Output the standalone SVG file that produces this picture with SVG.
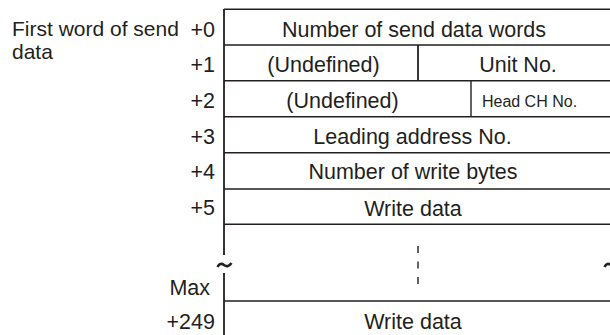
<svg xmlns="http://www.w3.org/2000/svg" width="610" height="335" viewBox="0 0 610 335">
<style>
text{font-family:"Liberation Sans",Arial,sans-serif;font-size:21.5px;fill:#231f20}
.r{text-anchor:end}
.c{text-anchor:middle}
.s{font-size:16px}
.t{font-size:21px}
.ln{stroke:#231f20;stroke-width:1.4;fill:none}
.v{stroke:#231f20;stroke-width:1.8;fill:none}
</style>
<rect width="610" height="335" fill="#fff"/>
<g id="labels">
<text class="t" x="12" y="36">First word of send</text>
<text class="t" x="12" y="59">data</text>
<text class="r" x="215" y="36.5">+0</text>
<text class="r" x="215" y="72">+1</text>
<text class="r" x="215" y="107.5">+2</text>
<text class="r" x="215" y="143.5">+3</text>
<text class="r" x="215" y="178.5">+4</text>
<text class="r" x="215" y="214.5">+5</text>
<text class="r" x="210" y="295">Max</text>
<text class="r" x="215" y="328.5">+249</text>
</g>
<g id="connectors">
<path class="v" d="M224 9V255M224 273V335"/>
<path class="ln" d="M224 9.3H610M224 45H610M224 80.7H610M224 116.7H610M224 152.7H610M224 189H610M224 224.3H610M224 301H610"/>
<path class="v" d="M418 45V80.7"/>
<path class="ln" d="M471 80.7V116.7"/>
<path class="ln" d="M418 246V284" stroke-dasharray="7 8.5"/>
<path d="M217.5 267 Q220 262 224 265 Q228 268 231.5 263" stroke="#231f20" stroke-width="2.6" fill="none"/>
<path d="M604.5 267 Q607 262 611 265 Q615 268 618.5 263" stroke="#231f20" stroke-width="2.6" fill="none"/>
</g>
<g id="row0"><text class="c" x="414" y="36.5">Number of send data words</text></g>
<g id="row1a"><text class="c" x="323.5" y="72">(Undefined)</text></g>
<g id="row1b"><text class="c" x="518" y="72">Unit No.</text></g>
<g id="row2a"><text class="c" x="342.5" y="107.5">(Undefined)</text></g>
<g id="row2b"><text class="c s" x="529.5" y="106.5">Head CH No.</text></g>
<g id="row3"><text class="c" x="412.5" y="143.5">Leading address No.</text></g>
<g id="row4"><text class="c" x="413" y="178.5">Number of write bytes</text></g>
<g id="row5"><text class="c" x="413" y="215.5">Write data</text></g>
<g id="row249"><text class="c" x="413" y="328.5">Write data</text></g>
</svg>
